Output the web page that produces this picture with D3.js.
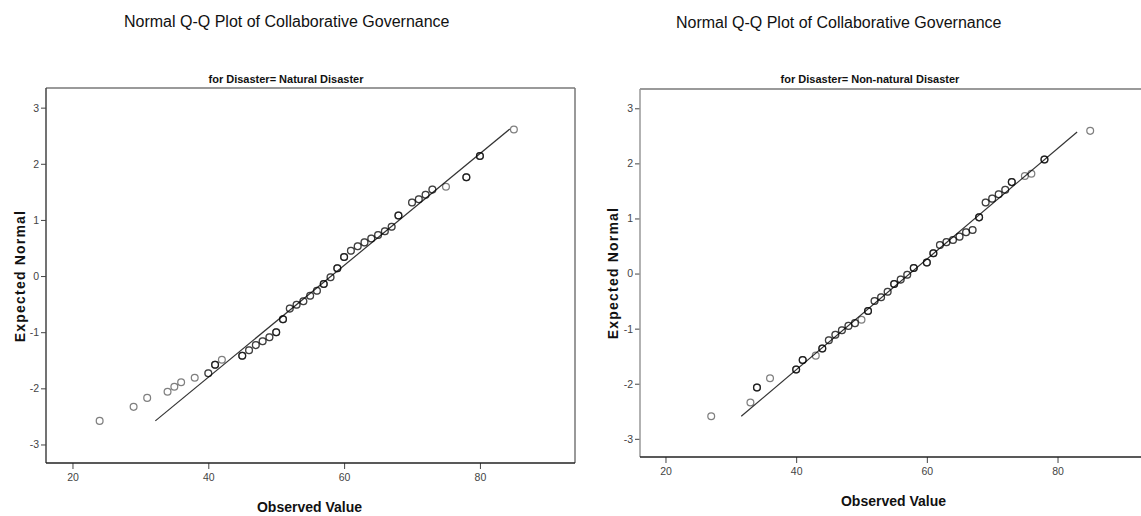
<!DOCTYPE html>
<meta charset="utf-8">
<style>
body { margin: 0; background: #fff; }
.tick text { font-family: "Liberation Sans", Arial, sans-serif; font-size: 10.5px; fill: #444; }
.tick line { stroke: #444; }
.title { font-family: "Liberation Sans", Arial, sans-serif; font-size: 16px; fill: #111; }
.subtitle { font-family: "Liberation Sans", Arial, sans-serif; font-size: 11px; font-weight: bold; fill: #111; }
.axis-title { font-family: "Liberation Sans", Arial, sans-serif; font-size: 14px; font-weight: bold; fill: #111; }
</style>
<svg width="1141" height="516"></svg>
<script src="https://d3js.org/d3.v7.min.js"></script>
<script>

// Natural Disaster: observed value, expected normal, number of cases at that value
var obsNatural = [24, 29, 31, 34, 35, 36, 38, 40, 41, 42, 45, 46, 47, 48, 49, 50, 51, 52, 53, 54, 55, 56, 57, 58, 59, 60,
                  61, 62, 63, 64, 65, 66, 67, 68, 70, 71, 72, 73, 75, 78, 80, 85];
var expNatural = [-2.58, -2.33, -2.17, -2.06, -1.97, -1.89, -1.81, -1.73, -1.58, -1.49, -1.42, -1.32, -1.23, -1.16, -1.09,
                  -1.0, -0.77, -0.58, -0.51, -0.45, -0.35, -0.26, -0.14, -0.02, 0.14, 0.34,
                  0.45, 0.53, 0.6, 0.67, 0.73, 0.8, 0.88, 1.08, 1.31, 1.37, 1.45, 1.54, 1.59, 1.76, 2.14, 2.61];
var nNatural   = [1, 1, 1, 1, 1, 1, 1, 2, 3, 1, 3, 2, 2, 2, 2, 3, 3, 2, 2, 2, 2, 2, 3, 2, 3, 3,
                  2, 2, 2, 2, 2, 2, 2, 3, 2, 2, 2, 2, 1, 3, 3, 1];
var lineNatural = [32.2, 84.4], meanNatural = 58.1, sdNatural = 10.04;

// Non-natural Disaster
var obsNonNatural = [27, 33, 34, 36, 40, 41, 43, 44, 45, 46, 47, 48, 49, 50, 51, 52, 53, 54, 55, 56, 57, 58, 60,
                     61, 62, 63, 64, 65, 66, 67, 68, 69, 70, 71, 72, 73, 75, 76, 78, 85];
var expNonNatural = [-2.59, -2.34, -2.07, -1.90, -1.74, -1.57, -1.49, -1.36, -1.21, -1.11, -1.03, -0.95, -0.90, -0.84,
                     -0.68, -0.50, -0.43, -0.33, -0.19, -0.11, -0.02, 0.10, 0.20,
                     0.37, 0.52, 0.57, 0.61, 0.67, 0.75, 0.79, 1.02, 1.29, 1.36, 1.44, 1.52, 1.66, 1.77, 1.81, 2.07, 2.59];
var nNonNatural   = [1, 1, 3, 1, 3, 3, 1, 3, 2, 2, 2, 2, 2, 1, 3, 2, 2, 2, 3, 2, 2, 3, 3,
                     3, 2, 2, 2, 2, 2, 2, 3, 2, 2, 2, 2, 3, 1, 1, 3, 1];
var lineNonNatural = [31.6, 83.0], meanNonNatural = 57.4, sdNonNatural = 9.96;

var xTicks = [20, 40, 60, 80],
    yTicks = [-3, -2, -1, 0, 1, 2, 3];

var mainTitle = "Normal Q-Q Plot of Collaborative Governance";

var svg = d3.select("svg");
svg.append("rect").attr("width", 1141).attr("height", 516).attr("fill", "#fff");

function panel(opt) {
  var x = d3.scaleLinear().domain([16.1, 94]).range([opt.left, opt.right]),
      y = d3.scaleLinear().domain([-3.33, 3.35]).range([opt.bottom, opt.top]);

  var g = svg.append("g");

  // titles
  g.append("text").attr("class", "title")
      .attr("x", opt.titleX).attr("y", opt.titleY)
      .text(mainTitle);
  g.append("text").attr("class", "subtitle")
      .attr("x", opt.center).attr("y", 83)
      .attr("text-anchor", "middle").text(opt.subtitle);

  // axes
  var yAxis = g.append("g")
      .attr("transform", "translate(" + opt.left + ",0)")
      .call(d3.axisLeft(y).tickValues(yTicks).tickSize(5).tickPadding(2)
        .tickFormat(function(d) { return String(d); }));
  yAxis.select(".domain").remove();

  var xAxis = g.append("g")
      .attr("transform", "translate(0," + opt.bottom + ")")
      .call(d3.axisBottom(x).tickValues(xTicks).tickSize(6).tickPadding(5));
  xAxis.select(".domain").remove();

  // frame
  g.append("line").attr("x1", opt.left).attr("x2", opt.right).attr("y1", opt.top).attr("y2", opt.top)
      .attr("stroke", "#9a9a9a").attr("stroke-width", 2);
  g.append("line").attr("x1", opt.right).attr("x2", opt.right).attr("y1", opt.top).attr("y2", opt.bottom)
      .attr("stroke", "#777").attr("stroke-width", 1.5);
  g.append("line").attr("x1", opt.left).attr("x2", opt.left).attr("y1", opt.top).attr("y2", opt.bottom)
      .attr("stroke", opt.leftColor).attr("stroke-width", 1.5);
  g.append("line").attr("x1", opt.left).attr("x2", opt.right).attr("y1", opt.bottom).attr("y2", opt.bottom)
      .attr("stroke", "#222").attr("stroke-width", 1.5);

  // axis titles
  g.append("text").attr("class", "axis-title")
      .attr("transform", "translate(" + opt.yTitleX + "," + opt.yTitleY + ") rotate(-90)")
      .attr("text-anchor", "middle").attr("letter-spacing", "1.2px")
      .text("Expected Normal");
  g.append("text").attr("class", "axis-title")
      .attr("x", opt.xTitleX).attr("y", opt.xTitleY)
      .attr("text-anchor", "middle")
      .text("Observed Value");

  // reference line
  g.append("line")
      .attr("x1", x(opt.line[0])).attr("y1", y((opt.line[0] - opt.mean) / opt.sd))
      .attr("x2", x(opt.line[1])).attr("y2", y((opt.line[1] - opt.mean) / opt.sd))
      .attr("stroke", "#333").attr("stroke-width", 1.2);

  // points: each case drawn on top of the others, so tied values look darker
  var pts = [];
  opt.obs.forEach(function(v, i) {
    for (var k = 0; k < opt.n[i]; k++) pts.push({ v: v, e: opt.exp[i] });
  });
  g.selectAll(".pt")
    .data(pts)
    .enter().append("circle")
      .attr("class", "pt")
      .attr("cx", function(d) { return x(d.v); })
      .attr("cy", function(d) { return y(d.e); })
      .attr("r", 3.4)
      .attr("fill", "none")
      .attr("stroke", "#000")
      .attr("stroke-opacity", 0.5)
      .attr("stroke-width", 1.25);
}

panel({
  left: 46, right: 575, top: 88, bottom: 463, center: 286, titleX: 124, titleY: 27,
  subtitle: "for Disaster= Natural Disaster", leftColor: "#444",
  yTitleX: 24.5, yTitleY: 276, xTitleX: 309.5, xTitleY: 512,
  obs: obsNatural, exp: expNatural, n: nNatural,
  line: lineNatural, mean: meanNatural, sd: sdNatural
});

panel({
  left: 640, right: 1149, top: 89, bottom: 457, center: 870, titleX: 676, titleY: 28,
  subtitle: "for Disaster= Non-natural Disaster", leftColor: "#999",
  yTitleX: 617.5, yTitleY: 273, xTitleX: 893.5, xTitleY: 506,
  obs: obsNonNatural, exp: expNonNatural, n: nNonNatural,
  line: lineNonNatural, mean: meanNonNatural, sd: sdNonNatural
});

</script>
